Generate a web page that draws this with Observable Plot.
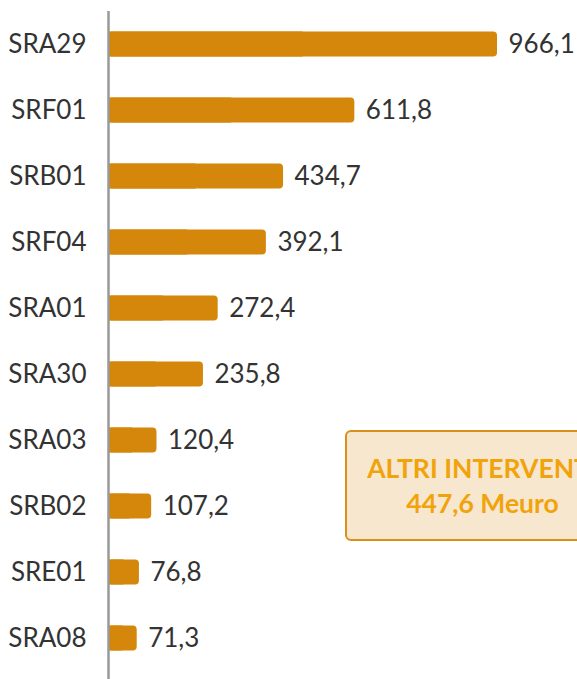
<!DOCTYPE html>
<html>
<head>
<meta charset="utf-8">
<script src="https://cdn.jsdelivr.net/npm/d3@7"></script>
<script src="https://cdn.jsdelivr.net/npm/@observablehq/plot@0.6"></script>
<style>
  html, body { margin: 0; padding: 0; background: #fff; }
  #wrap { position: relative; width: 577px; height: 679px; overflow: hidden; font-family: Lato, sans-serif; }
  #box { position: absolute; left: 345px; top: 430px; width: 275px; height: 111px; box-sizing: border-box;
         background: #f8e7cf; border: 2px solid #d9901a; border-radius: 6px;
         display: flex; flex-direction: column; justify-content: center; align-items: center;
         color: #f0a30a; font-weight: bold; font-size: 26.5px; line-height: 35px; text-align: center; white-space: nowrap; }
</style>
</head>
<body>
<div id="wrap"></div>
<script>
const categories = ["SRA29","SRF01","SRB01","SRF04","SRA01","SRA30","SRA03","SRB02","SRE01","SRA08"];
const values = [966.1, 611.8, 434.7, 392.1, 272.4, 235.8, 120.4, 107.2, 76.8, 71.3];
const labels = ["966,1","611,8","434,7","392,1","272,4","235,8","120,4","107,2","76,8","71,3"];
const boxTitle = "ALTRI INTERVENTI";
const boxValue = "447,6 Meuro";

const data = categories.map((c, i) => ({cat: c, value: values[i], label: labels[i]}));

const plot = Plot.plot({
  width: 577,
  height: 679,
  marginLeft: 108,
  marginRight: 80,
  marginTop: 15,
  marginBottom: 12,
  style: {fontFamily: "Lato, sans-serif", fontSize: "26px", color: "#333", background: "#fff"},
  x: {domain: [0, 966.1], axis: null},
  y: {domain: categories, paddingInner: 0.62, paddingOuter: 0.25, round: false, label: null, tickSize: 0, tickPadding: 22},
  marks: [
    Plot.barX(data, {x1: 0, x2: "value", y: "cat", fill: "#d4870a", rx: 4}),
    Plot.barX(data, {x1: 0, x2: d => d.value / 2, y: "cat", fill: "#d4870a"}),
    Plot.text(data, {x: "value", y: "cat", text: "label", textAnchor: "start", dx: 11, fill: "#333", fontSize: 26}),
    Plot.ruleX([0], {stroke: "#999", strokeWidth: 2.5, insetTop: -4, insetBottom: -12})
  ]
});
document.getElementById("wrap").appendChild(plot);
const box = document.createElement("div");
box.id = "box";
box.innerHTML = `<div>${boxTitle}</div><div>${boxValue}</div>`;
document.getElementById("wrap").appendChild(box);
</script>
</body>
</html>
